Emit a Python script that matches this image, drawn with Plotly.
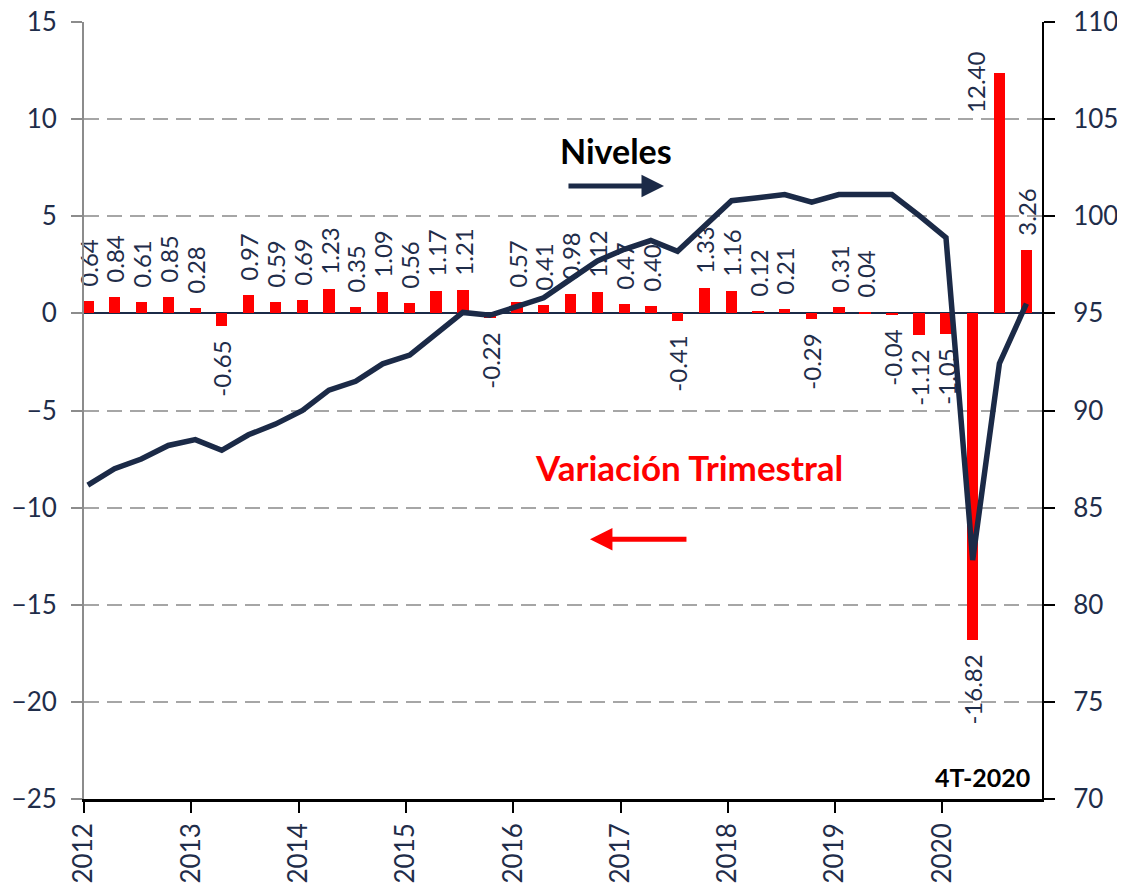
import plotly.graph_objects as go

# ---------------- data ----------------
years = [2012, 2013, 2014, 2015, 2016, 2017, 2018, 2019, 2020]
quarter_months = [1, 4, 7, 10]
quarters = [f"{y}-{m:02d}-14" for y in years for m in quarter_months]

variacion = [0.64, 0.84, 0.61, 0.85, 0.28, -0.65, 0.97, 0.59, 0.69, 1.23, 0.35, 1.09,
             0.56, 1.17, 1.21, -0.22, 0.57, 0.41, 0.98, 1.12, 0.47, 0.40, -0.41, 1.33,
             1.16, 0.12, 0.21, -0.29, 0.31, 0.04, -0.04, -1.12, -1.05, -16.82, 12.40, 3.26]

niveles = [86.16, 87.0, 87.5, 88.2, 88.5, 87.95, 88.75, 89.3, 90.0, 91.05, 91.5, 92.4,
           92.85, 93.95, 95.05, 94.9, 95.35, 95.8, 96.75, 97.7, 98.3, 98.75, 98.2, 99.5,
           100.8, 100.95, 101.12, 100.73, 101.12, 101.12, 101.12, 100.05, 98.9, 82.3,
           92.42, 95.5]

tick_years = [str(y) for y in years]
tick_dates = [f"{y}-01-01" for y in years]

NAVY = "#1B2A47"
TXT = "#1F2D4A"
RED = "#FF0000"
FONT = "Lato"
PAD = "<span style='color:rgba(0,0,0,0)'>..</span>"

# label of the largest bar is placed beside it (as in the source chart)
imax = variacion.index(max(variacion))
labels = []
for i, v in enumerate(variacion):
    if i == imax:
        labels.append("")
    elif v >= 0:
        labels.append(PAD + f"{v:.2f}")
    else:
        labels.append(f"{v:.2f}" + PAD)

fig = go.Figure()

fig.add_trace(go.Bar(
    x=quarters, y=variacion,
    marker=dict(color=RED, line=dict(width=0)),
    width=39 * 24 * 3600 * 1000,
    text=labels,
    textposition="outside",
    textangle=-90,
    textfont=dict(family=FONT, size=24, color=TXT),
    constraintext="none",
    cliponaxis=False,
    name="Variación Trimestral",
    yaxis="y",
))

fig.add_trace(go.Scatter(
    x=quarters, y=niveles,
    mode="lines",
    line=dict(color=NAVY, width=5.5),
    name="Niveles",
    yaxis="y2",
))

# page body adds an 8px offset; margins compensate for it
fig.update_layout(
    width=1125, height=886, autosize=False,
    margin=dict(l=76, r=91, t=14, b=95),
    plot_bgcolor="white", paper_bgcolor="white",
    showlegend=False,
    font=dict(family=FONT, color=TXT),
    bargap=0,
    xaxis=dict(
        type="date", automargin=False, ticklabeloverflow="allow",
        range=["2012-01-01", "2020-12-06"],
        tickvals=tick_dates, ticktext=tick_years,
        tickangle=-90,
        ticks="outside", ticklen=11, tickwidth=2, tickcolor="black",
        showline=True, linecolor="black", linewidth=2.5,
        showgrid=False, zeroline=False,
        tickfont=dict(family=FONT, size=26, color=TXT),
    ),
    yaxis=dict(
        range=[-25, 15], dtick=5, tick0=0, automargin=False, ticklabeloverflow="allow",
        showgrid=True, gridcolor="#A6A6A6", gridwidth=2, griddash="15px,8px",
        zeroline=True, zerolinecolor=NAVY, zerolinewidth=2,
        showline=True, linecolor="#8C8C8C", linewidth=2,
        ticks="outside", ticklen=11, tickwidth=2, tickcolor="#8C8C8C",
        tickfont=dict(family=FONT, size=26, color=TXT),
        ticklabelstandoff=9,
    ),
    yaxis2=dict(
        range=[70, 110], dtick=5, tick0=70, automargin=False, ticklabeloverflow="allow",
        overlaying="y", side="right",
        showgrid=False, zeroline=False,
        showline=True, linecolor="black", linewidth=2,
        ticks="outside", ticklen=11, tickwidth=2, tickcolor="black",
        tickfont=dict(family=FONT, size=26, color=TXT),
        ticklabelstandoff=13,
    ),
)

fig.add_annotation(xref="x", yref="y", x=quarters[imax], y=variacion[imax],
                   text=f"{variacion[imax]:.2f}", textangle=-90, showarrow=False,
                   font=dict(family=FONT, size=24, color=TXT),
                   xanchor="center", yanchor="middle", xshift=-24, yshift=-10)

# text annotations and arrows (paper coordinates)
fig.add_annotation(xref="paper", yref="paper", x=0.5553, y=0.8352,
                   text="<b>Niveles</b>", showarrow=False,
                   font=dict(family=FONT, size=34, color="black"),
                   xanchor="center", yanchor="middle")
fig.add_annotation(xref="paper", yref="paper", x=0.6054, y=0.7889,
                   ax=-97, ay=0, text="", showarrow=True,
                   arrowhead=2, arrowsize=0.9, arrowwidth=5, arrowcolor=NAVY)
fig.add_annotation(xref="paper", yref="paper", x=0.6313, y=0.4271,
                   text="<b>Variación Trimestral</b>", showarrow=False,
                   font=dict(family=FONT, size=35, color=RED),
                   xanchor="center", yanchor="middle")
fig.add_annotation(xref="paper", yref="paper", x=(590 - 84.3) / 957.5, y=(798.7 - 539) / 776.7,
                   ax=98, ay=0, text="", showarrow=True,
                   arrowhead=2, arrowsize=0.9, arrowwidth=5, arrowcolor=RED)
fig.add_annotation(xref="paper", yref="paper", x=0.9384, y=0.0279,
                   text="<b>4T-2020</b>", showarrow=False,
                   font=dict(family=FONT, size=25, color="black"),
                   xanchor="center", yanchor="middle")

fig.write_html("out.html")
